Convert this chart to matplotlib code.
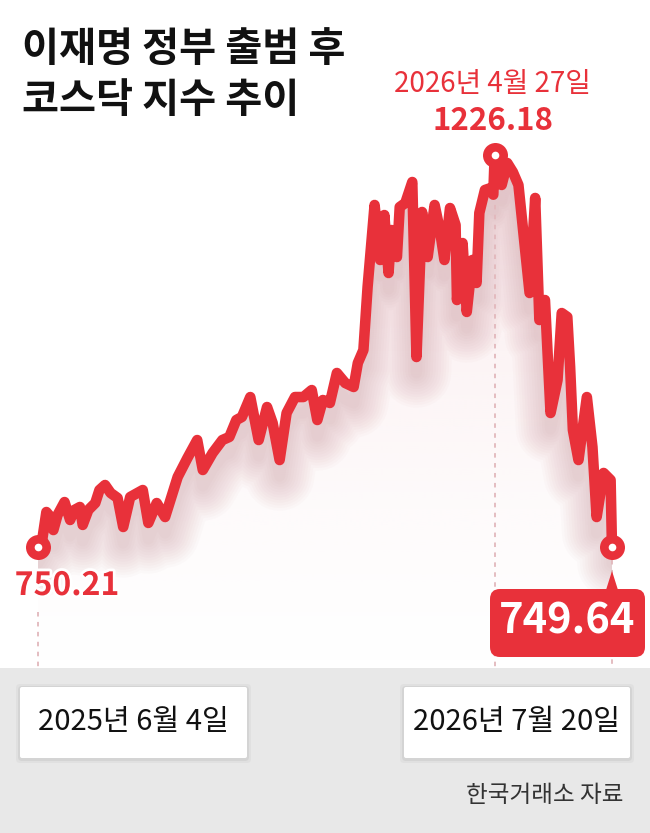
import numpy as np
import matplotlib
matplotlib.use("Agg")
import matplotlib.pyplot as plt
from matplotlib.patches import FancyBboxPatch, Polygon, Rectangle
from matplotlib.transforms import offset_copy, IdentityTransform
import matplotlib.patheffects as pe

plt.rcParams['font.family'] = ['Noto Sans CJK KR', 'DejaVu Sans']

# KOSDAQ closing values (days after 2025-06-04)
days = [0, 3, 6, 9, 11, 14, 19, 23, 26, 30, 32, 36, 41, 44, 48, 52, 57, 61, 66, 75,
        79, 85, 91, 100, 107, 114, 118, 125, 132, 137, 142, 146, 152, 158, 164, 168, 173, 178, 184, 190,
        196, 200, 204, 209, 214, 220, 226, 229, 233, 236, 241, 245, 248, 251, 253, 257, 259, 263, 268, 271,
        275, 279, 284, 288, 291, 295, 299, 300, 304, 307, 311, 314, 316, 320, 324, 326, 327, 332, 336, 340,
        344, 352, 356, 359, 363, 367, 372, 375, 379, 381, 383, 387, 393, 397, 400, 405, 410, 411]
values = [750.21, 758.7, 792.7, 786.6, 770.8, 789.1, 804.8, 783.0, 795.1, 798.8,
          777.0, 795.1, 803.6, 819.4, 825.5, 815.8, 809.7, 774.5, 810.9, 819.4,
          779.4, 803.6, 786.6, 835.2, 858.3, 880.1, 843.7, 864.3, 880.1, 883.8,
          904.4, 908.1, 932.3, 880.1, 920.2, 900.8, 855.8, 912.9, 932.3, 932.3,
          940.8, 904.4, 928.7, 925.1, 961.5, 949.3, 944.5, 973.6, 989.4, 1065.9,
          1165.5, 1098.7, 1153.3, 1082.9, 1135.1, 1102.3, 1163.0, 1167.9, 1193.4, 980.9,
          1157.0, 1102.3, 1165.5, 1132.7, 1098.7, 1161.8, 1141.2, 1050.1, 1119.3, 1035.6,
          1098.7, 1070.8, 1155.8, 1183.7, 1186.0, 1178.0, 1226.18, 1189.8, 1216.5, 1205.5,
          1189.8, 1058.6, 1174.0, 1025.8, 1050.1, 912.9, 953.0, 1034.3, 1029.5, 968.8,
          892.3, 855.8, 932.3, 871.6, 786.6, 840.1, 831.6, 749.64]

title = "이재명 정부 출범 후\n코스닥 지수 추이"
start_label = "2025년 6월 4일"
peak_label = "2026년 4월 27일"
end_label = "2026년 7월 20일"
source = "한국거래소 자료"

RED = "#e8313a"
W, H = 650, 833

fig = plt.figure(figsize=(6.5, 8.33), dpi=100)
fig.patch.set_facecolor("white")
ax = fig.add_axes([0, 0, 1, 1])
ax.set_axis_off()

# map data onto the pixel frame of the picture
i_peak = int(np.argmax(values))
x0px, x1px = 38, 612
ytop_px, ybot_px = 155, 547
dx = (days[-1] - days[0]) / (x1px - x0px)
dy = (values[i_peak] - values[0]) / (ybot_px - ytop_px)
px2day = lambda p: days[0] + (p - x0px) * dx
px2val = lambda p: values[0] + (ybot_px - p) * dy
ax.set_xlim(px2day(0), px2day(W))
ax.set_ylim(px2val(H), px2val(0))
band_val = px2val(668)

# pale gradient fill under the line
poly = ax.fill_between(days, values, band_val, color="none", lw=0)
clip = poly.get_paths()[0]
grad = np.zeros((256, 1, 4))
grad[:, 0, 0] = 250 / 255
grad[:, 0, 1] = 233 / 255
grad[:, 0, 2] = 235 / 255
grad[:, 0, 3] = np.linspace(0.0, 0.95, 256) ** 1.3
im = ax.imshow(grad, extent=[days[0], days[-1], band_val, values[i_peak]],
               origin="lower", aspect="auto", zorder=1)
im.set_clip_path(clip, transform=ax.transData)

# soft shadow under the line, kept inside the filled area
for lw in np.linspace(50, 8, 12):
    tr = offset_copy(ax.transData, fig=fig, x=0, y=-16, units="dots")
    sh, = ax.plot(days, values, color="#a8626b", lw=lw, alpha=0.022, transform=tr,
                  solid_joinstyle="round", solid_capstyle="round", zorder=2)
    sh.set_clip_path(clip, transform=ax.transData)

# dotted guides
dot = dict(color="#e2b8bc", lw=1.3, linestyle=(0, (2.5, 3)), zorder=2.5)
ax.plot([days[0], days[0]], [px2val(612), band_val], **dot)
ax.plot([days[i_peak], days[i_peak]], [px2val(185), band_val], **dot)
ax.plot([days[-1], days[-1]], [px2val(560), band_val], **dot)

ax.plot(days, values, color=RED, lw=7.6, solid_joinstyle="round",
        solid_capstyle="round", zorder=4)

for i in (0, i_peak, len(values) - 1):
    ax.plot(days[i], values[i], "o", ms=18, color=RED, mec="none", zorder=5)
    ax.plot(days[i], values[i], "o", ms=5.5, color="white", mec="none", zorder=6)

# bottom band and boxes (pixel coordinates)
idt = IdentityTransform()
fig.add_artist(Rectangle((0, 0), W, H - 668, transform=idt, fc="#e8e8e8", ec="none", zorder=1))
for bx in [(20, 247), (404, 630)]:
    for k, a in [(4, 0.03), (2, 0.05)]:
        fig.add_artist(FancyBboxPatch((bx[0] - k, H - 758 - k - 1), bx[1] - bx[0] + 2 * k, 71 + 2 * k,
                                      boxstyle="round,pad=0,rounding_size=4", transform=idt,
                                      fc="black", ec="none", alpha=a, zorder=1.5))
    fig.add_artist(FancyBboxPatch((bx[0], H - 758), bx[1] - bx[0], 71,
                                  boxstyle="round,pad=0,rounding_size=2", transform=idt,
                                  fc="white", ec="none", zorder=2))

fig.add_artist(FancyBboxPatch((490, H - 657), 155, 68, boxstyle="round,pad=0,rounding_size=10",
                              transform=idt, fc=RED, ec="none", zorder=2))
fig.add_artist(Polygon([(606, H - 590), (618, H - 590), (612, H - 571)], closed=True,
                       transform=idt, fc=RED, ec="none", zorder=2))

fx = lambda p: p / W
fy = lambda p: 1 - p / H

fig.text(fx(22), fy(29), title, fontsize=29, weight="bold", color="#111111",
         va="top", ha="left", linespacing=1.3, zorder=5)
fig.text(fx(492), fy(84), peak_label, fontsize=20, color=RED, ha="center", va="center", zorder=5)
fig.text(fx(493), fy(121), f"{values[i_peak]:.2f}", fontsize=22.5, weight="bold", color=RED,
         ha="center", va="center", zorder=5)
fig.text(fx(67), fy(586), f"{values[0]:.2f}", fontsize=23, weight="bold", color=RED,
         ha="center", va="center", zorder=5,
         path_effects=[pe.withStroke(linewidth=4, foreground="white")])
fig.text(fx(567), fy(622), f"{values[-1]:.2f}", fontsize=30, weight="bold", color="white",
         ha="center", va="center", zorder=5)
fig.text(fx(133), fy(722), start_label, fontsize=21, color="#111111", ha="center", va="center", zorder=5)
fig.text(fx(517), fy(722), end_label, fontsize=21, color="#111111", ha="center", va="center", zorder=5)
fig.text(fx(623), fy(795), source, fontsize=17, color="#333333", ha="right", va="center", zorder=5)

fig.savefig("out.png", dpi=100, facecolor="white")
